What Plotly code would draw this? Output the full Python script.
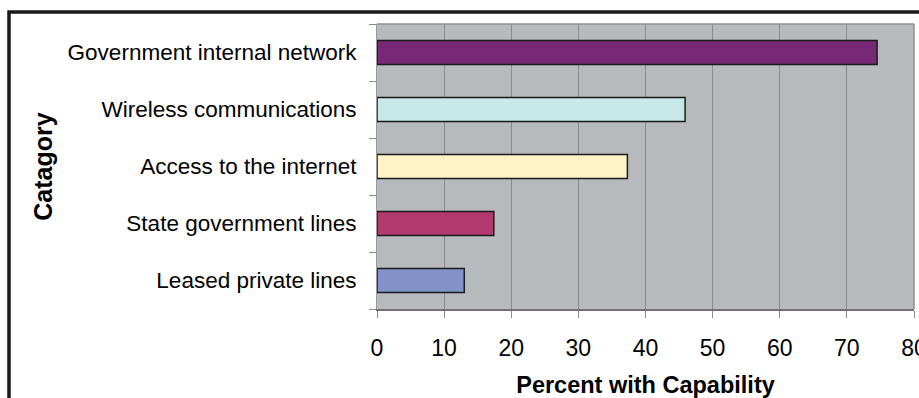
import plotly.graph_objects as go

# Categories listed bottom-to-top (horizontal bar order)
categories = [
    "Leased private lines",
    "State government lines",
    "Access to the internet",
    "Wireless communications",
    "Government internal network",
]
percent = [13.0, 17.4, 37.3, 45.9, 74.5]
bar_colors = ["#8392C8", "#B23A6E", "#FFF3C7", "#C7E7E9", "#772876"]
x_ticks = [0, 10, 20, 30, 40, 50, 60, 70, 80]

FONT = "Liberation Sans, Arial, sans-serif"

fig = go.Figure(
    go.Bar(
        x=percent,
        y=categories,
        orientation="h",
        width=0.42,
        marker=dict(color=bar_colors, line=dict(color="#1a1a1a", width=1.5)),
        showlegend=False,
        hoverinfo="x+y",
    )
)

fig.update_layout(
    width=919,
    height=398,
    margin=dict(l=377, r=5, t=24, b=89),
    paper_bgcolor="white",
    plot_bgcolor="#B6BABD",
    font=dict(family=FONT, size=22.5, color="#000000"),
    bargap=0.58,
)

fig.update_xaxes(
    range=[0, 80],
    tickvals=x_ticks,
    ticktext=[str(v) for v in x_ticks],
    showgrid=True,
    gridcolor="#8a8a8a",
    gridwidth=1,
    zeroline=False,
    ticks="outside",
    ticklen=7,
    tickcolor="#8a8a8a",
    tickfont=dict(size=23),
    ticklabelstandoff=10,
    ticklabeloverflow="allow",
    showline=True,
    linecolor="#707070",
    linewidth=2,
    mirror=False,
    title=dict(
        text="<b>Percent with Capability</b>",
        font=dict(size=23.5),
        standoff=21,
    ),
    automargin=False,
)

fig.update_yaxes(
    type="category",
    categoryorder="array",
    categoryarray=categories,
    showgrid=False,
    ticks="outside",
    tickson="boundaries",
    ticklen=7,
    tickcolor="#8a8a8a",
    tickfont=dict(size=22.5),
    ticklabelstandoff=15,
    showline=True,
    linecolor="#9a9a9a",
    linewidth=1,
    title=dict(text="<b>Catagory</b>", font=dict(size=25), standoff=7),
    automargin=False,
)

# Plot-area border on the top and right sides
fig.add_shape(type="line", xref="paper", yref="paper", x0=0, x1=1, y0=1, y1=1,
              line=dict(color="#8f8f8f", width=1.5))
fig.add_shape(type="line", xref="paper", yref="paper", x0=1, x1=1, y0=0, y1=1,
              line=dict(color="#8f8f8f", width=1.5))

# Outer chart frame (runs past the right and bottom edges)
fig.add_shape(type="rect", xref="paper", yref="paper",
              x0=(9 - 377) / 537, x1=(940 - 377) / 537,
              y0=(309 - 420) / 285, y1=1 + (24 - 12) / 285,
              line=dict(color="#1a1a1a", width=3.5), fillcolor="rgba(0,0,0,0)",
              layer="above")

fig.write_html("out.html")
